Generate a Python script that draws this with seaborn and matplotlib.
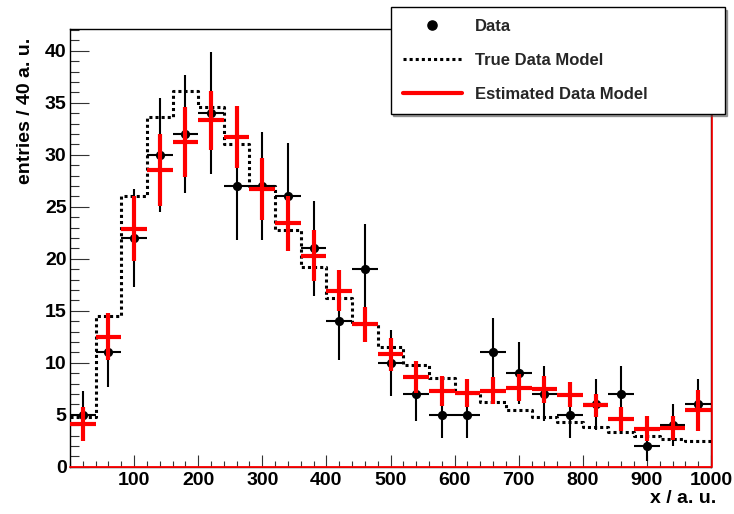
import numpy as np
import matplotlib
matplotlib.use("Agg")
import matplotlib.pyplot as plt
import matplotlib.transforms as mtransforms
from matplotlib.lines import Line2D
from matplotlib.ticker import FixedLocator, MultipleLocator
import seaborn as sns
import pandas as pd

# ---------------- data ----------------
bin_edges = [0, 40, 80, 120, 160, 200, 240, 280, 320, 360, 400, 440, 480, 520,
             560, 600, 640, 680, 720, 760, 800, 840, 880, 920, 960, 1000]
bin_centers = [20, 60, 100, 140, 180, 220, 260, 300, 340, 380, 420, 460, 500,
               540, 580, 620, 660, 700, 740, 780, 820, 860, 900, 940, 980]
data_counts = [5, 11, 22, 30, 32, 34, 27, 27, 26, 21, 14, 19, 10,
               7, 5, 5, 11, 9, 7, 5, 6, 7, 2, 4, 6]
data_err = [2.24, 3.32, 4.69, 5.48, 5.66, 5.83, 5.20, 5.20, 5.10, 4.58, 3.74, 4.36, 3.16,
            2.65, 2.24, 2.24, 3.32, 3.00, 2.65, 2.24, 2.45, 2.65, 1.41, 2.00, 2.45]
true_model = [4.8, 14.46, 26.0, 33.65, 36.15, 34.6, 31.0, 27.0, 22.76, 19.17, 16.2, 13.7, 11.54,
              9.78, 8.5, 7.06, 6.19, 5.45, 4.8, 4.28, 3.77, 3.37, 2.95, 2.66, 2.47]
est_model = [4.1, 12.5, 22.9, 28.5, 31.2, 33.3, 31.7, 26.7, 23.4, 20.3, 16.9, 13.7, 10.8,
             8.6, 7.3, 7.1, 7.3, 7.6, 7.45, 6.9, 5.9, 4.6, 3.65, 3.7, 5.45]
est_err = [1.63, 2.28, 3.1, 3.45, 3.37, 2.83, 2.97, 2.97, 2.65, 2.45, 1.97, 1.7, 1.57,
           1.52, 1.44, 1.36, 1.28, 1.31, 1.28, 1.2, 1.1, 1.12, 1.2, 1.15, 1.97]
x_ticks = [100, 200, 300, 400, 500, 600, 700, 800, 900, 1000]
y_ticks = [0, 5, 10, 15, 20, 25, 30, 35, 40]
legend_labels = ["Data", "True Data Model", "Estimated Data Model"]

df = pd.DataFrame({"x": bin_centers, "data": data_counts, "data_err": data_err,
                   "est": est_model, "est_err": est_err})
step_df = pd.DataFrame({"x": bin_edges, "y": true_model + [true_model[-1]]})

# ---------------- style ----------------
sns.set_theme(style="white")
plt.rcParams["font.family"] = ["Liberation Sans", "DejaVu Sans"]
plt.rcParams["font.weight"] = "bold"

W, H = 734, 514
fig = plt.figure(figsize=(W / 100, H / 100), dpi=100)
fig.patch.set_facecolor("white")
ax = fig.add_axes([70 / W, (H - 466.7) / H, 641 / W, (466.7 - 29.3) / H])
ax.set_facecolor("white")

BIN_HALF = 20

# data error bars + markers
ax.errorbar(df["x"], df["data"], xerr=BIN_HALF, yerr=df["data_err"], fmt="none",
            ecolor="black", elinewidth=1.5, capsize=0, zorder=2)
sns.scatterplot(data=df, x="x", y="data", color="black", s=44, linewidth=0,
                ax=ax, zorder=3, legend=False)

# true model (dotted step)
sns.lineplot(data=step_df, x="x", y="y", drawstyle="steps-post", color="black",
             linewidth=2.2, linestyle=(0, (1, 1)), ax=ax, zorder=4, legend=False)

# estimated model (red crosses)
ax.errorbar(df["x"], df["est"], xerr=BIN_HALF, yerr=df["est_err"], fmt="none",
            ecolor="red", elinewidth=3, capsize=0, zorder=5)

ax.set_xlim(0, 1000)
ax.set_ylim(0, 42.06)
ax.set_xlabel("")
ax.set_ylabel("")

ax.xaxis.set_major_locator(FixedLocator(x_ticks))
ax.xaxis.set_minor_locator(MultipleLocator(20))
ax.yaxis.set_major_locator(FixedLocator(y_ticks))
ax.yaxis.set_minor_locator(MultipleLocator(1))
ax.set_xticklabels([str(v) for v in x_ticks])
ax.set_yticklabels([str(v) for v in y_ticks])

tick_col = "#333333"
ax.tick_params(axis="x", which="major", direction="in", length=8.6, width=0.8,
               bottom=True, top=False, labelsize=14, pad=3.8, color=tick_col,
               labelcolor="black")
ax.tick_params(axis="x", which="minor", direction="in", length=4.3, width=0.8,
               bottom=True, top=False, color=tick_col)
ax.tick_params(axis="y", which="major", direction="in", length=13.9, width=0.8,
               left=True, right=False, labelsize=14, pad=2.5, color=tick_col,
               labelcolor="black")
ax.tick_params(axis="y", which="minor", direction="in", length=6.7, width=0.8,
               left=True, right=False, color=tick_col)
for lab in ax.get_xticklabels() + ax.get_yticklabels():
    lab.set_fontweight("bold")

for s in ax.spines.values():
    s.set_visible(True)
    s.set_color("black")
    s.set_linewidth(1.0)

# red outline along bottom and right edge
ax.plot([0, 1000], [0, 0], color="red", lw=1.3, clip_on=False, zorder=6)
trans = ax.transData + mtransforms.ScaledTranslation(1.2 / 100, 0, fig.dpi_scale_trans)
ax.plot([1000, 1000], [0, 42.06], color="red", lw=1.2, clip_on=False, zorder=6,
        transform=trans)

# axis titles
fig.text(25 / W, 1 - 38 / H, "entries / 40 a. u.", rotation=90, ha="center",
         va="top", fontsize=14, fontweight="bold", color="black")
fig.text(683 / W, 1 - 490 / H, "x / a. u.", ha="center", va="top",
         fontsize=14, fontweight="bold", color="black")

# legend
handles = [
    Line2D([], [], marker="o", color="black", linestyle="none", markersize=6.6),
    Line2D([], [], color="black", linewidth=2.2, linestyle=(0, (1, 1))),
    Line2D([], [], color="red", linewidth=3),
]
leg = fig.legend(handles, legend_labels, loc="upper left",
                 bbox_to_anchor=(390.7 / W, 1 - 7.3 / H, 334 / W, 0), mode="expand",
                 frameon=True, fancybox=False, shadow=True,
                 edgecolor="black", framealpha=1, borderpad=0.72, labelspacing=1.12,
                 handlelength=3.55, handletextpad=0.78, borderaxespad=0,
                 prop={"weight": "bold", "size": 12})
leg.get_frame().set_linewidth(1.0)
leg.set_zorder(10)

fig.savefig("out.png", dpi=100, facecolor="white")
